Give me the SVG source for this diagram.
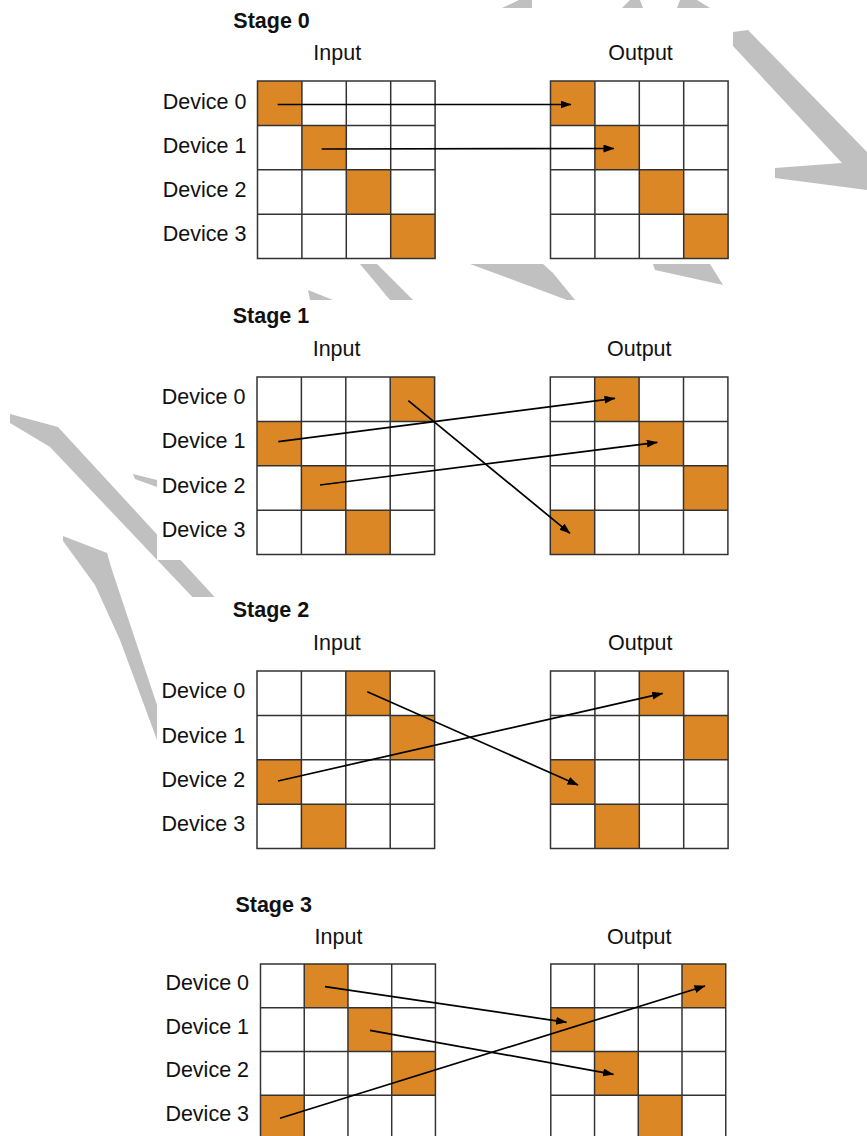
<svg xmlns="http://www.w3.org/2000/svg" width="867" height="1136" viewBox="0 0 867 1136">
  <style>
    .bg { fill: #ffffff; }
    .stroke-shape { fill: #c0c0c0; }
    .panel { fill: #ffffff; }
    .title { font-family: "Liberation Sans", Arial, sans-serif; font-size: 21.5px; font-weight: bold; fill: #111111; }
    .label { font-family: "Liberation Sans", Arial, sans-serif; font-size: 21.5px; fill: #111111; }
    .cell-on { fill: #db8726; }
    .grid { fill: none; stroke: #333333; stroke-width: 1.5; }
    .link { fill: none; stroke: #000000; stroke-width: 1.7; marker-end: url(#arrow); }
  </style>
  <defs>
    <marker id="arrow" markerUnits="userSpaceOnUse" markerWidth="12" markerHeight="9" refX="10.5" refY="4" orient="auto">
      <path d="M0,0 L11,4 L0,8 z" fill="#000000"/>
    </marker>
    <!-- 4x4 grid, cell 44.4 -->
    <path id="grid4" d="M0,0 H177.6 V177.6 H0 Z M44.4,0 V177.6 M88.8,0 V177.6 M133.2,0 V177.6 M0,44.4 H177.6 M0,88.8 H177.6 M0,133.2 H177.6"/>
    <rect id="on" width="44.4" height="44.4"/>
  </defs>

  <rect class="bg" x="0" y="0" width="867" height="1136"/>

  <!-- decorative grey brush strokes behind the panels -->
  <g id="brush">
    <polygon class="stroke-shape" points="519,0 532,0 532,8 502,8"/>
    <polygon class="stroke-shape" points="630,0 640,0 643,8 622,8"/>
    <polygon class="stroke-shape" points="680,0 697,0 710,8 677,8"/>
    <polygon class="stroke-shape" points="733,32 748,30 867,152 867,190 775,178 775,168 842,163 733,46"/>
    <polygon class="stroke-shape" points="360,264 377,264 413,300 390,300"/>
    <polygon class="stroke-shape" points="308,290 333,300 310,300"/>
    <polygon class="stroke-shape" points="470,264 543,264 553,273 575,300 567,300"/>
    <polygon class="stroke-shape" points="653,264 710,264 723,285 655,270"/>
    <polygon class="stroke-shape" points="10,414 58,427 222,605 200,605 50,447 10,423"/>
    <polygon class="stroke-shape" points="133,474 157,480 157,487 135,479"/>
    <polygon class="stroke-shape" points="63,536 107,553 112,570 157,705 166,745 160,748 120,640 95,585 63,541"/>
  </g>

  <!-- Stage 0 -->
  <g id="stage0">
    <rect class="panel" x="150" y="8" width="580" height="255"/>
    <text class="title" x="233.3" y="28.3">Stage 0</text>
    <text class="label" x="313.3" y="60">Input</text>
    <text class="label" x="608.3" y="60">Output</text>
    <text class="label" x="162.7" y="109">Device 0</text>
    <text class="label" x="162.7" y="153.3">Device 1</text>
    <text class="label" x="162.7" y="196.8">Device 2</text>
    <text class="label" x="162.7" y="240.7">Device 3</text>
    <g id="stage0-input" transform="translate(257.5,81)">
      <use href="#on" class="cell-on" x="0" y="0"/>
      <use href="#on" class="cell-on" x="44.4" y="44.4"/>
      <use href="#on" class="cell-on" x="88.8" y="88.8"/>
      <use href="#on" class="cell-on" x="133.2" y="133.2"/>
      <use href="#grid4" class="grid"/>
    </g>
    <g id="stage0-output" transform="translate(550.5,81)">
      <use href="#on" class="cell-on" x="0" y="0"/>
      <use href="#on" class="cell-on" x="44.4" y="44.4"/>
      <use href="#on" class="cell-on" x="88.8" y="88.8"/>
      <use href="#on" class="cell-on" x="133.2" y="133.2"/>
      <use href="#grid4" class="grid"/>
    </g>
  </g>

  <!-- Stage 1 -->
  <g id="stage1">
    <rect class="panel" x="157" y="300" width="583" height="260"/>
    <text class="title" x="232.7" y="323.3">Stage 1</text>
    <text class="label" x="312.7" y="356">Input</text>
    <text class="label" x="607" y="356">Output</text>
    <text class="label" x="161.7" y="404">Device 0</text>
    <text class="label" x="161.7" y="448.3">Device 1</text>
    <text class="label" x="161.7" y="492.5">Device 2</text>
    <text class="label" x="161.7" y="536.8">Device 3</text>
    <g id="stage1-input" transform="translate(257,377)">
      <use href="#on" class="cell-on" x="133.2" y="0"/>
      <use href="#on" class="cell-on" x="0" y="44.4"/>
      <use href="#on" class="cell-on" x="44.4" y="88.8"/>
      <use href="#on" class="cell-on" x="88.8" y="133.2"/>
      <use href="#grid4" class="grid"/>
    </g>
    <g id="stage1-output" transform="translate(550.3,377)">
      <use href="#on" class="cell-on" x="44.4" y="0"/>
      <use href="#on" class="cell-on" x="88.8" y="44.4"/>
      <use href="#on" class="cell-on" x="133.2" y="88.8"/>
      <use href="#on" class="cell-on" x="0" y="133.2"/>
      <use href="#grid4" class="grid"/>
    </g>
  </g>

  <!-- Stage 2 -->
  <g id="stage2">
    <rect class="panel" x="157" y="597" width="583" height="283"/>
    <text class="title" x="232.7" y="617.3">Stage 2</text>
    <text class="label" x="313" y="650">Input</text>
    <text class="label" x="608" y="650">Output</text>
    <text class="label" x="161.5" y="698.3">Device 0</text>
    <text class="label" x="161.5" y="742.5">Device 1</text>
    <text class="label" x="161.5" y="786.8">Device 2</text>
    <text class="label" x="161.5" y="831">Device 3</text>
    <g id="stage2-input" transform="translate(257,671)">
      <use href="#on" class="cell-on" x="88.8" y="0"/>
      <use href="#on" class="cell-on" x="133.2" y="44.4"/>
      <use href="#on" class="cell-on" x="0" y="88.8"/>
      <use href="#on" class="cell-on" x="44.4" y="133.2"/>
      <use href="#grid4" class="grid"/>
    </g>
    <g id="stage2-output" transform="translate(550.5,671)">
      <use href="#on" class="cell-on" x="88.8" y="0"/>
      <use href="#on" class="cell-on" x="133.2" y="44.4"/>
      <use href="#on" class="cell-on" x="0" y="88.8"/>
      <use href="#on" class="cell-on" x="44.4" y="133.2"/>
      <use href="#grid4" class="grid"/>
    </g>
  </g>

  <!-- Stage 3 -->
  <g id="stage3">
    <rect class="panel" x="157" y="880" width="583" height="256"/>
    <text class="title" x="235.4" y="912.3">Stage 3</text>
    <text class="label" x="314.6" y="944">Input</text>
    <text class="label" x="607" y="944">Output</text>
    <text class="label" x="165.4" y="990">Device 0</text>
    <text class="label" x="165.4" y="1033.5">Device 1</text>
    <text class="label" x="165.4" y="1077">Device 2</text>
    <text class="label" x="165.4" y="1120.5">Device 3</text>
    <g id="stage3-input" transform="translate(260.5,964) scale(0.985)">
      <use href="#on" class="cell-on" x="44.4" y="0"/>
      <use href="#on" class="cell-on" x="88.8" y="44.4"/>
      <use href="#on" class="cell-on" x="133.2" y="88.8"/>
      <use href="#on" class="cell-on" x="0" y="133.2"/>
      <use href="#grid4" class="grid"/>
    </g>
    <g id="stage3-output" transform="translate(550.8,964) scale(0.985)">
      <use href="#on" class="cell-on" x="133.2" y="0"/>
      <use href="#on" class="cell-on" x="0" y="44.4"/>
      <use href="#on" class="cell-on" x="44.4" y="88.8"/>
      <use href="#on" class="cell-on" x="88.8" y="133.2"/>
      <use href="#grid4" class="grid"/>
    </g>
  </g>

  <!-- data movement arrows -->
  <g id="connectors">
    <line class="link" x1="277.7" y1="104.5" x2="571" y2="104.5"/>
    <line class="link" x1="321.7" y1="149" x2="614" y2="148.5"/>

    <line class="link" x1="408.3" y1="400.7" x2="570" y2="533.3"/>
    <line class="link" x1="278.3" y1="441.7" x2="615" y2="398.3"/>
    <line class="link" x1="320" y1="485" x2="657.3" y2="442.3"/>

    <line class="link" x1="367.3" y1="691.7" x2="578" y2="785"/>
    <line class="link" x1="278" y1="781" x2="662.7" y2="693.3"/>

    <line class="link" x1="325" y1="986.7" x2="566.5" y2="1022.3"/>
    <line class="link" x1="370" y1="1030.3" x2="613.5" y2="1074.3"/>
    <line class="link" x1="280" y1="1118.3" x2="705" y2="986"/>
  </g>
</svg>
